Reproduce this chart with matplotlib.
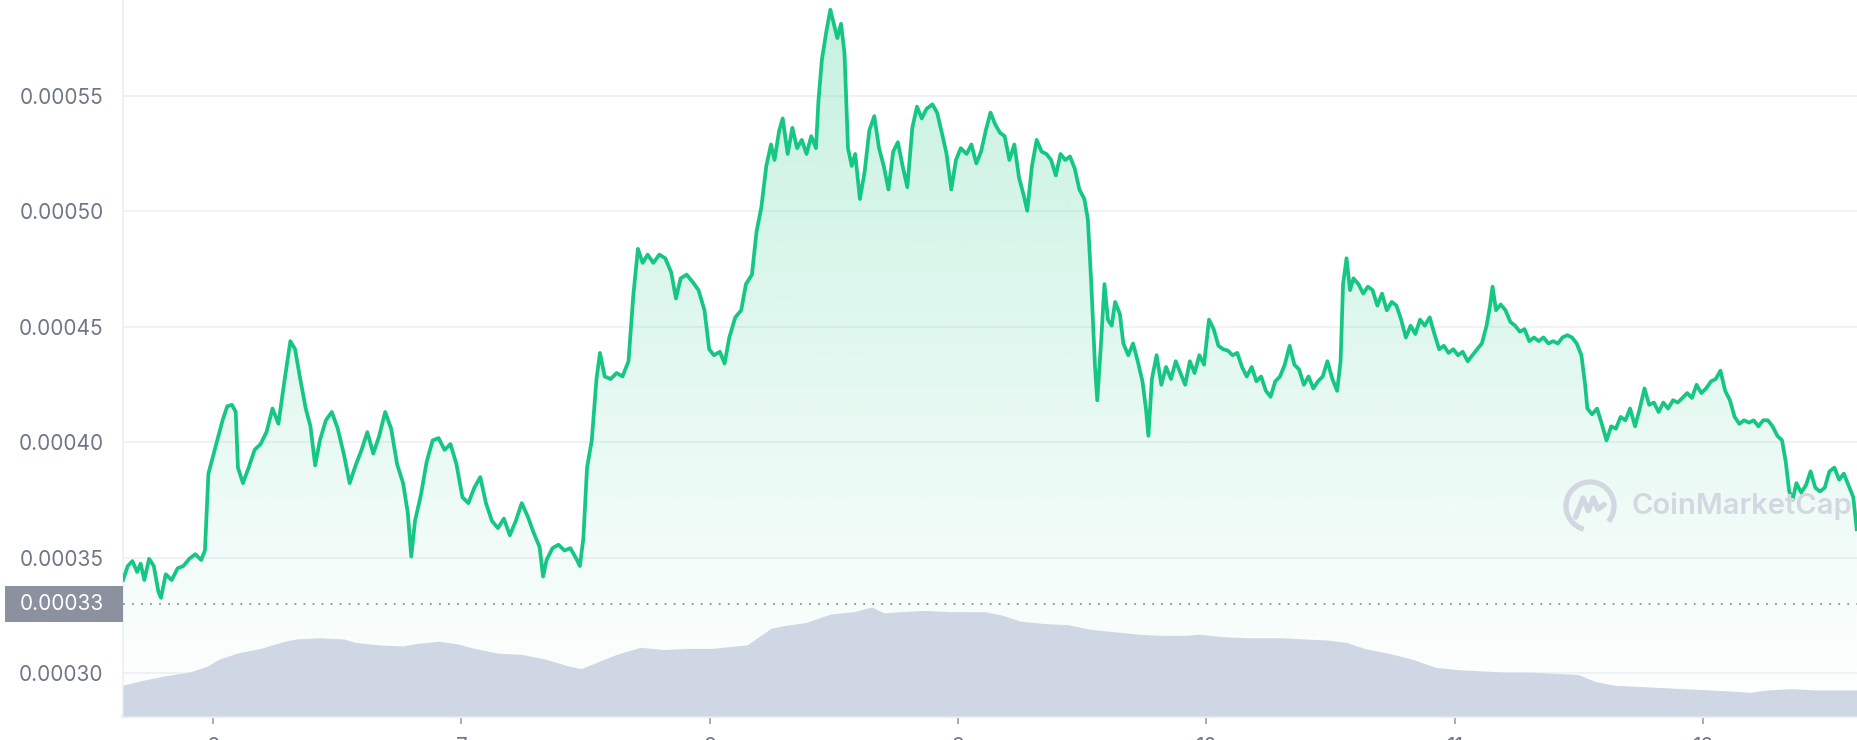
import numpy as np
import matplotlib
matplotlib.use('Agg')
import matplotlib.pyplot as plt
import matplotlib.transforms as mtransforms
from matplotlib.colors import to_rgb
from matplotlib.patches import Rectangle, Arc

plt.rcParams['font.family'] = ['Inter', 'DejaVu Sans']

# price (time in days of the month, price in 1e-5 USD)
days = [5.637, 5.656, 5.675, 5.694, 5.708, 5.723, 5.742, 5.761, 5.780, 5.790,
        5.809, 5.833, 5.857, 5.880, 5.904, 5.928, 5.952, 5.967, 5.981, 6.000,
        6.019, 6.038, 6.057, 6.076, 6.091, 6.100, 6.120, 6.143, 6.167, 6.191,
        6.215, 6.239, 6.263, 6.287, 6.311, 6.330, 6.349, 6.373, 6.392, 6.411,
        6.430, 6.454, 6.478, 6.502, 6.526, 6.550, 6.574, 6.598, 6.621, 6.645,
        6.669, 6.693, 6.717, 6.741, 6.765, 6.784, 6.798, 6.813, 6.837, 6.860,
        6.884, 6.908, 6.932, 6.956, 6.980, 7.004, 7.028, 7.052, 7.076, 7.099,
        7.123, 7.147, 7.171, 7.195, 7.219, 7.243, 7.267, 7.291, 7.315, 7.329,
        7.343, 7.367, 7.391, 7.415, 7.439, 7.463, 7.477, 7.491, 7.506, 7.525,
        7.544, 7.558, 7.577, 7.601, 7.625, 7.649, 7.673, 7.692, 7.711, 7.730,
        7.750, 7.773, 7.797, 7.821, 7.845, 7.864, 7.883, 7.907, 7.931, 7.955,
        7.979, 7.998, 8.017, 8.041, 8.060, 8.079, 8.103, 8.127, 8.146, 8.170,
        8.189, 8.208, 8.228, 8.247, 8.261, 8.280, 8.294, 8.314, 8.333, 8.352,
        8.371, 8.390, 8.409, 8.428, 8.438, 8.452, 8.471, 8.486, 8.500, 8.514,
        8.529, 8.543, 8.557, 8.572, 8.586, 8.605, 8.624, 8.643, 8.663, 8.682,
        8.701, 8.720, 8.739, 8.758, 8.777, 8.796, 8.816, 8.835, 8.854, 8.873,
        8.897, 8.916, 8.935, 8.954, 8.973, 8.992, 9.011, 9.035, 9.054, 9.074,
        9.093, 9.112, 9.131, 9.150, 9.169, 9.188, 9.207, 9.227, 9.246, 9.265,
        9.279, 9.298, 9.317, 9.337, 9.356, 9.375, 9.394, 9.413, 9.432, 9.451,
        9.470, 9.489, 9.509, 9.523, 9.537, 9.552, 9.561, 9.576, 9.590, 9.604,
        9.619, 9.633, 9.652, 9.666, 9.686, 9.705, 9.724, 9.743, 9.757, 9.767,
        9.781, 9.800, 9.819, 9.838, 9.858, 9.877, 9.896, 9.915, 9.934, 9.953,
        9.972, 9.991, 10.011, 10.030, 10.049, 10.068, 10.087, 10.106, 10.125, 10.144,
        10.163, 10.183, 10.202, 10.221, 10.240, 10.259, 10.278, 10.297, 10.316, 10.336,
        10.355, 10.374, 10.393, 10.412, 10.431, 10.450, 10.469, 10.488, 10.508, 10.527,
        10.541, 10.551, 10.565, 10.579, 10.593, 10.613, 10.632, 10.651, 10.670, 10.689,
        10.708, 10.727, 10.747, 10.766, 10.785, 10.804, 10.823, 10.842, 10.861, 10.880,
        10.900, 10.919, 10.938, 10.957, 10.976, 10.995, 11.014, 11.033, 11.053, 11.072,
        11.091, 11.110, 11.129, 11.143, 11.153, 11.167, 11.186, 11.205, 11.225, 11.244,
        11.263, 11.282, 11.301, 11.320, 11.339, 11.358, 11.378, 11.397, 11.416, 11.435,
        11.454, 11.473, 11.492, 11.511, 11.526, 11.535, 11.554, 11.574, 11.593, 11.612,
        11.631, 11.650, 11.669, 11.688, 11.707, 11.727, 11.746, 11.765, 11.784, 11.803,
        11.822, 11.841, 11.860, 11.880, 11.899, 11.918, 11.937, 11.956, 11.975, 11.994,
        12.013, 12.033, 12.052, 12.071, 12.090, 12.109, 12.128, 12.147, 12.166, 12.186,
        12.205, 12.224, 12.243, 12.262, 12.281, 12.300, 12.319, 12.334, 12.348, 12.362,
        12.377, 12.396, 12.415, 12.434, 12.453, 12.472, 12.491, 12.510, 12.530, 12.549,
        12.568, 12.587, 12.606, 12.620]

price_e5 = [34.03, 34.64, 34.85, 34.38, 34.74, 34.03, 34.95, 34.64, 33.51, 33.26,
            34.28, 34.03, 34.54, 34.64, 34.95, 35.15, 34.90, 35.31, 38.64, 39.41,
            40.18, 40.95, 41.56, 41.62, 41.31, 38.90, 38.23, 38.90, 39.67, 39.92,
            40.44, 41.46, 40.80, 42.64, 44.38, 44.03, 42.85, 41.46, 40.69, 39.00,
            40.08, 40.95, 41.31, 40.59, 39.51, 38.23, 39.00, 39.67, 40.44, 39.51,
            40.28, 41.31, 40.59, 39.05, 38.23, 36.95, 35.05, 36.59, 37.72, 39.15,
            40.08, 40.18, 39.67, 39.92, 39.05, 37.62, 37.36, 38.03, 38.49, 37.36,
            36.59, 36.28, 36.69, 35.97, 36.59, 37.36, 36.79, 36.08, 35.46, 34.18,
            34.90, 35.41, 35.56, 35.31, 35.41, 34.95, 34.64, 35.82, 38.90, 40.08,
            42.74, 43.87, 42.85, 42.74, 43.00, 42.85, 43.51, 46.33, 48.38, 47.77,
            48.13, 47.77, 48.13, 47.97, 47.36, 46.23, 47.10, 47.26, 46.95, 46.59,
            45.72, 44.03, 43.77, 43.92, 43.41, 44.54, 45.41, 45.72, 46.85, 47.26,
            49.15, 50.18, 51.97, 52.90, 52.23, 53.51, 54.03, 52.49, 53.62, 52.74,
            53.10, 52.49, 53.26, 52.74, 54.79, 56.59, 57.87, 58.74, 58.13, 57.51,
            58.13, 56.85, 52.74, 51.97, 52.49, 50.54, 51.72, 53.51, 54.13, 52.74,
            51.97, 50.95, 52.59, 53.00, 51.97, 51.05, 53.62, 54.54, 54.03, 54.44,
            54.64, 54.28, 53.41, 52.49, 50.95, 52.23, 52.74, 52.49, 52.90, 52.08,
            52.59, 53.51, 54.28, 53.77, 53.41, 53.26, 52.23, 52.90, 51.46, 50.69,
            50.03, 51.97, 53.10, 52.59, 52.49, 52.23, 51.56, 52.49, 52.23, 52.38,
            51.87, 50.95, 50.54, 49.67, 46.85, 43.26, 41.82, 44.28, 46.85, 45.31,
            45.05, 46.08, 45.56, 44.28, 43.77, 44.28, 43.51, 42.64, 41.46, 40.28,
            42.74, 43.77, 42.49, 43.26, 42.74, 43.51, 43.00, 42.49, 43.51, 43.00,
            43.77, 43.36, 45.31, 44.90, 44.18, 44.03, 43.97, 43.77, 43.87, 43.26,
            42.85, 43.26, 42.64, 42.85, 42.23, 41.97, 42.64, 42.85, 43.36, 44.18,
            43.36, 43.15, 42.49, 42.85, 42.33, 42.64, 42.85, 43.51, 42.74, 42.23,
            43.51, 46.85, 47.97, 46.59, 47.10, 46.85, 46.44, 46.74, 46.59, 45.92,
            46.44, 45.72, 46.08, 45.92, 45.31, 44.54, 45.05, 44.69, 45.31, 45.05,
            45.41, 44.69, 44.03, 44.18, 43.87, 44.03, 43.77, 43.92, 43.51, 43.77,
            44.03, 44.28, 45.05, 45.92, 46.74, 45.72, 45.97, 45.72, 45.21, 45.05,
            44.79, 44.90, 44.38, 44.54, 44.38, 44.54, 44.28, 44.38, 44.28, 44.54,
            44.64, 44.54, 44.28, 43.77, 42.49, 41.46, 41.21, 41.46, 40.80, 40.08,
            40.69, 40.59, 41.10, 40.95, 41.46, 40.69, 41.46, 42.33, 41.62, 41.72,
            41.31, 41.72, 41.46, 41.82, 41.72, 41.92, 42.13, 41.92, 42.49, 42.13,
            42.33, 42.64, 42.74, 43.10, 42.23, 41.82, 41.10, 40.80, 40.95, 40.85,
            40.95, 40.69, 40.95, 40.95, 40.69, 40.28, 40.08, 39.15, 37.87, 37.51,
            38.23, 37.82, 38.13, 38.74, 38.03, 37.87, 38.03, 38.74, 38.90, 38.38,
            38.64, 38.13, 37.62, 36.23]

# volume (relative units)
vol_days = [5.637, 5.713, 5.809, 5.904, 5.976, 6.024, 6.096, 6.191, 6.287, 6.335,
            6.430, 6.526, 6.574, 6.669, 6.765, 6.813, 6.908, 6.980, 7.052, 7.147,
            7.243, 7.338, 7.434, 7.482, 7.530, 7.625, 7.721, 7.816, 7.912, 8.008,
            8.103, 8.151, 8.199, 8.247, 8.294, 8.390, 8.486, 8.581, 8.653, 8.701,
            8.772, 8.868, 8.964, 9.107, 9.179, 9.251, 9.346, 9.442, 9.537, 9.633,
            9.728, 9.824, 9.920, 9.967, 10.063, 10.159, 10.302, 10.398, 10.493, 10.565,
            10.637, 10.732, 10.828, 10.924, 11.019, 11.115, 11.210, 11.306, 11.402, 11.497,
            11.569, 11.641, 11.736, 11.832, 11.927, 12.023, 12.119, 12.190, 12.262, 12.358,
            12.453, 12.620]
volume = [2.6, 3.0, 3.4, 3.7, 4.2, 4.8, 5.3, 5.7, 6.3, 6.5,
          6.6, 6.5, 6.2, 6.0, 5.9, 6.1, 6.3, 6.1, 5.7, 5.3,
          5.2, 4.8, 4.2, 4.0, 4.4, 5.2, 5.8, 5.6, 5.7, 5.7,
          5.9, 6.0, 6.7, 7.4, 7.6, 7.9, 8.6, 8.8, 9.2, 8.7,
          8.8, 8.9, 8.8, 8.8, 8.5, 8.0, 7.8, 7.7, 7.3, 7.1,
          6.9, 6.8, 6.8, 6.9, 6.7, 6.6, 6.6, 6.5, 6.4, 6.2,
          5.7, 5.3, 4.8, 4.1, 3.9, 3.8, 3.7, 3.7, 3.6, 3.5,
          2.9, 2.6, 2.5, 2.4, 2.3, 2.2, 2.1, 2.0, 2.2, 2.3,
          2.2, 2.2]

y_ticks = [0.00030, 0.00035, 0.00040, 0.00045, 0.00050, 0.00055]
x_ticks = [6, 7, 8, 9, 10, 11, 12]
x_labels = ['6', '7', '8', '9', '10', '11', '12']
ref_price = 0.00033

days = np.array(days)
price = np.array(price_e5) * 1e-5

green = '#16c784'
grey_txt = '#6f7686'
grid_c = '#eff2f5'

fig = plt.figure(figsize=(18.58, 7.40), dpi=100)
ax = fig.add_axes([123 / 1858, 24 / 740, 1735 / 1858, 716 / 740])
ybot, ytop = 0.0002814, 0.0005916
x0, x1 = 5.637, 12.625

# gradient fill under the price line
rgba = np.zeros((256, 1, 4))
rgba[..., :3] = to_rgb(green)
rgba[..., 3] = np.linspace(0.25, 0.0, 256)[:, None]
im = ax.imshow(rgba, extent=[x0, x1, ybot, ytop], aspect='auto', origin='upper', zorder=1)
poly = ax.fill_between(days, price, ybot, facecolor='none', edgecolor='none')
im.set_clip_path(poly.get_paths()[0], transform=ax.transData)

ax.plot(days, price, color=green, lw=2.7, zorder=4, solid_joinstyle='round')

ax.set_xlim(x0, x1)
ax.set_ylim(ybot, ytop)
ax.set_yticks(y_ticks)
ax.set_yticklabels(['%.5f' % v for v in y_ticks])
ax.set_xticks(x_ticks)
ax.set_xticklabels(x_labels)
ax.grid(axis='y', color=grid_c, lw=1.3, zorder=0)
ax.set_axisbelow(True)
ax.tick_params(axis='y', length=0, pad=14, labelsize=15, labelcolor=grey_txt)
ax.tick_params(axis='x', length=6, width=1.2, color='#9aa0ad', pad=9, labelsize=15, labelcolor=grey_txt)
for s in ['top', 'right']:
    ax.spines[s].set_visible(False)
ax.spines['left'].set_color(grid_c)
ax.spines['left'].set_linewidth(1.5)
ax.spines['bottom'].set_color('#eceff5')
ax.spines['bottom'].set_linewidth(3)

# volume on its own scale
vax = ax.twinx()
vax.fill_between(vol_days, volume, 0, color='#cfd6e4', lw=0)
vax.set_ylim(0, 60.4)
vax.set_yticks([])
for s in vax.spines.values():
    s.set_visible(False)

# reference price line and label
ax.axhline(ref_price, color='#8b919e', lw=1.3, ls=(0, (1, 4)), zorder=5)
trans = mtransforms.blended_transform_factory(ax.transAxes, ax.transData)
h = 0.0000156
ax.add_patch(Rectangle((-118 / 1735, ref_price - h / 2), 118 / 1735, h, transform=trans,
                       facecolor='#8b919e', edgecolor='none', clip_on=False, zorder=6))
ax.text(-19 / 1735, ref_price, '%.5f' % ref_price, transform=trans, ha='right', va='center',
        fontsize=15, color='white', zorder=7)

# watermark
lax = fig.add_axes([(1590 - 32) / 1858, (740 - 506 - 32) / 740, 64 / 1858, 64 / 740])
lax.set_xlim(-1, 1)
lax.set_ylim(-1, 1)
lax.axis('off')
wm = '#d3d7e1'
lax.add_patch(Arc((0, 0), 1.5, 1.5, theta1=-40, theta2=255, color=wm, lw=3.8))
lax.plot([-0.45, -0.22, -0.05, 0.1, 0.25, 0.45], [-0.35, 0.25, -0.15, 0.25, -0.1, 0.05], color=wm, lw=3.8,
         solid_capstyle='round', solid_joinstyle='round')
fig.text(1632 / 1858, (740 - 506) / 740, 'CoinMarketCap', fontsize=21, fontweight='semibold', color=wm,
         ha='left', va='center')

fig.savefig('out.png', dpi=100)
